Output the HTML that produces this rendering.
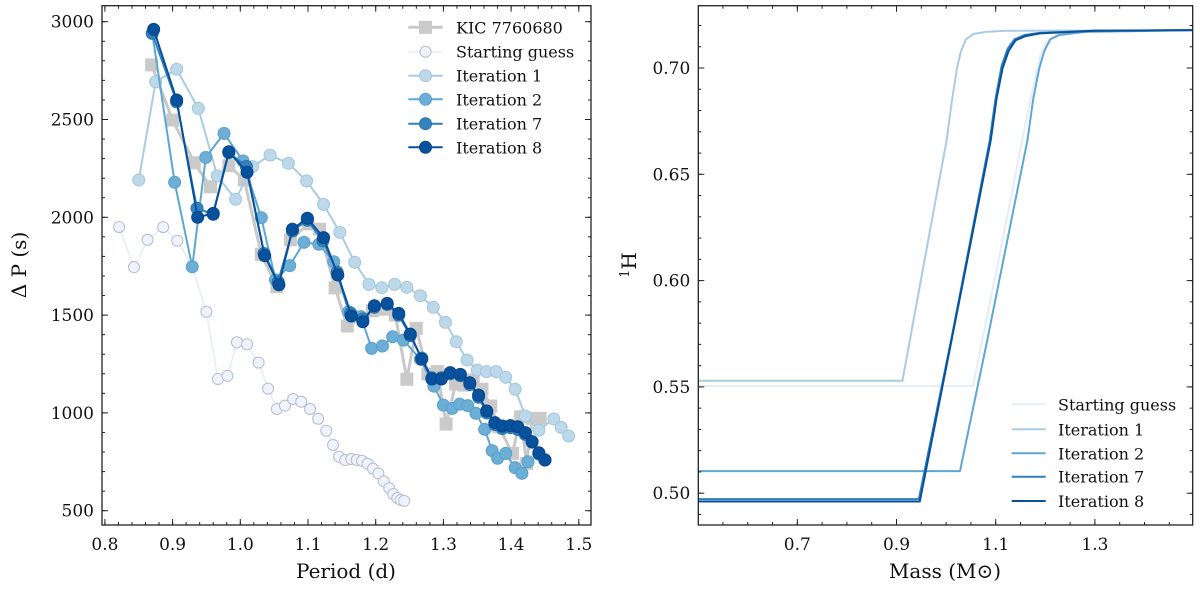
<!DOCTYPE html>
<html><head><meta charset="utf-8"><style>
html,body{margin:0;padding:0;background:#fff;width:1200px;height:591px;overflow:hidden}
svg{display:block}
text{font-family:"DejaVu Serif","Liberation Serif",serif;fill:#111}
</style></head><body>
<svg id="chart" width="1200" height="591" viewBox="0 0 1200 591" xmlns="http://www.w3.org/2000/svg"></svg>
<script>
// ---------- Left panel data (Period d, Delta P s) ----------
const kicPeriod=[0.869,0.900,0.932,0.956,0.983,1.006,1.031,1.054,1.074,1.100,1.117,1.140,1.158,1.195,1.212,1.229,1.246,1.260,1.277,1.291,1.304,1.318,1.331,1.344,1.357,1.370,1.382,1.402,1.414,1.423,1.431,1.443];
const kicDP=[2779,2497,2279,2156,2264,2191,1811,1645,1885,1966,1939,1639,1444,1522,1530,1500,1172,1432,1199,1211,943,1148,1142,1168,1121,1035,929,793,980,742,972,972];
const startPeriod=[0.821,0.843,0.863,0.886,0.907,0.929,0.950,0.967,0.981,0.995,1.010,1.027,1.041,1.054,1.066,1.078,1.090,1.103,1.115,1.127,1.137,1.146,1.155,1.164,1.172,1.180,1.188,1.196,1.204,1.212,1.220,1.226,1.232,1.237,1.242];
const startDP=[1950,1745,1885,1950,1880,1747,1517,1173,1189,1361,1351,1257,1124,1020,1037,1071,1057,1020,970,909,836,776,759,764,759,755,740,715,690,650,615,585,565,555,550];
const it1Period=[0.850,0.875,0.906,0.938,0.966,0.993,1.018,1.044,1.071,1.098,1.123,1.147,1.169,1.190,1.209,1.228,1.246,1.266,1.285,1.303,1.319,1.335,1.350,1.364,1.378,1.392,1.406,1.421,1.441,1.463,1.474,1.485];
const it1DP=[2191,2693,2757,2557,2211,2092,2259,2318,2276,2186,2066,1923,1770,1657,1640,1657,1642,1599,1540,1463,1364,1270,1219,1211,1211,1182,1121,984,912,969,926,882];
const it2Period=[0.870,0.903,0.929,0.949,0.976,1.004,1.031,1.052,1.073,1.094,1.116,1.138,1.160,1.178,1.194,1.210,1.225,1.241,1.266,1.286,1.300,1.313,1.324,1.336,1.348,1.361,1.372,1.380,1.392,1.406,1.416,1.425];
const it2DP=[2940,2179,1747,2306,2429,2288,1998,1680,1753,1872,1862,1773,1517,1492,1330,1342,1389,1372,1274,1137,1040,1023,1045,1037,998,916,807,768,793,720,691,750];
const it7Period=[0.870,0.906,0.936,0.960,0.983,1.009,1.035,1.056,1.077,1.099,1.122,1.143,1.163,1.181,1.198,1.217,1.234,1.251,1.268,1.283,1.297,1.310,1.325,1.339,1.352,1.364,1.376,1.387,1.399,1.410,1.421,1.431,1.441,1.450];
const it7DP=[2940,2590,2046,2015,2330,2260,1815,1670,1930,1985,1880,1720,1510,1480,1540,1555,1500,1395,1280,1180,1180,1200,1190,1145,1080,1000,940,920,925,915,890,850,790,760];
const it8Period=[0.872,0.906,0.937,0.960,0.983,1.010,1.036,1.057,1.077,1.099,1.123,1.144,1.164,1.181,1.198,1.217,1.234,1.251,1.268,1.283,1.297,1.310,1.325,1.339,1.352,1.364,1.376,1.387,1.399,1.410,1.421,1.431,1.441,1.450];
const it8DP=[2961,2600,2000,2020,2335,2230,1804,1655,1939,1995,1896,1705,1495,1466,1548,1560,1509,1403,1275,1173,1173,1206,1197,1154,1091,1010,950,933,935,929,899,853,796,759];
const leftXTicks=[0.8,0.9,1.0,1.1,1.2,1.3,1.4,1.5];
const leftXTickLabels=["0.8","0.9","1.0","1.1","1.2","1.3","1.4","1.5"];
const leftYTicks=[500,1000,1500,2000,2500,3000];
const leftYTickLabels=["500","1000","1500","2000","2500","3000"];
// ---------- Right panel data (Mass, 1H) ----------
const startMass=[0.5,1.054,1.10,1.14,1.165,1.19,1.205,1.225,1.26,1.5];
const startH=[0.5504,0.5504,0.603,0.650,0.680,0.706,0.713,0.716,0.7175,0.7178];
const it1Mass=[0.5,0.912,0.960,1.001,1.012,1.022,1.030,1.040,1.055,1.08,1.12,1.23,1.5];
const it1H=[0.5529,0.5529,0.614,0.666,0.685,0.700,0.708,0.7135,0.716,0.7170,0.7175,0.7176,0.7178];
const it2Mass=[0.5,1.028,1.083,1.164,1.176,1.188,1.198,1.210,1.228,1.28,1.5];
const it2H=[0.5104,0.5104,0.572,0.666,0.686,0.700,0.708,0.7135,0.7155,0.717,0.7178];
const it7Mass=[0.5,0.945,1.011,1.088,1.100,1.112,1.124,1.138,1.158,1.189,1.30,1.5];
const it7H=[0.4972,0.4972,0.573,0.666,0.686,0.701,0.709,0.7135,0.7155,0.7165,0.7175,0.7178];
const it8Mass=[0.5,0.947,1.011,1.090,1.102,1.114,1.126,1.140,1.160,1.189,1.30,1.5];
const it8H=[0.4961,0.4961,0.572,0.666,0.686,0.700,0.708,0.713,0.715,0.7163,0.7175,0.7178];
const rightXTicks=[0.7,0.9,1.1,1.3];
const rightXTickLabels=["0.7","0.9","1.1","1.3"];
const rightYTicks=[0.50,0.55,0.60,0.65,0.70];
const rightYTickLabels=["0.50","0.55","0.60","0.65","0.70"];

const NS="http://www.w3.org/2000/svg";
const svg=document.getElementById('chart');
function mk(tag,attrs,parent){const e=document.createElementNS(NS,tag);for(const k in attrs)e.setAttribute(k,attrs[k]);(parent||svg).appendChild(e);return e;}

const L={x0:102,x1:591,y0:5.7,y1:525};
const R={x0:698.3,x1:1192.7,y0:5.7,y1:525};
function xL(v){return 104.9+(v-0.8)*677;}
function yL(v){return 21.7+(3000-v)*0.1956;}
function xR(m){return 797.3+(m-0.7)*496;}
function yR(h){return 493.2-(h-0.5)*2126;}

const defs=mk('defs',{});
const cl=mk('clipPath',{id:'clipL'},defs);mk('rect',{x:L.x0,y:L.y0,width:L.x1-L.x0,height:L.y1-L.y0},cl);
const cr=mk('clipPath',{id:'clipR'},defs);mk('rect',{x:R.x0,y:R.y0,width:R.x1-R.x0,height:R.y1-R.y0},cr);

function ticks(g,box,xs,isX,len,fn){
  xs.forEach(v=>{
    const p=fn(v);
    if(isX){
      if(p<box.x0+0.5||p>box.x1-0.5)return;
      mk('line',{x1:p,x2:p,y1:box.y1,y2:box.y1-len,stroke:'#222','stroke-width':1},g);
      mk('line',{x1:p,x2:p,y1:box.y0,y2:box.y0+len,stroke:'#222','stroke-width':1},g);
    }else{
      if(p<box.y0+0.5||p>box.y1-0.5)return;
      mk('line',{x1:box.x0,x2:box.x0+len,y1:p,y2:p,stroke:'#222','stroke-width':1},g);
      mk('line',{x1:box.x1,x2:box.x1-len,y1:p,y2:p,stroke:'#222','stroke-width':1},g);
    }
  });
}
function range(a,b,s){const r=[];for(let v=a;v<=b+1e-9;v+=s)r.push(Math.round(v*1000)/1000);return r;}

// ---------- Left panel ----------
const gL=mk('g',{});


const plotL=mk('g',{'clip-path':'url(#clipL)'},gL);



function series(parent,xs,ys,fx,fy,color,lw,marker,fill,edge,size,name){
  const g=mk('g',{},parent);
  
  
  const pts=xs.map((v,i)=>fx(v).toFixed(2)+','+fy(ys[i]).toFixed(2)).join(' ');
  const pl=mk('polyline',{points:pts,fill:'none',stroke:color,'stroke-width':lw,'stroke-linejoin':'round'},g);
  
  
  xs.forEach((v,i)=>{
    let m;
    if(marker==='s'){m=mk('rect',{x:fx(v)-size,y:fy(ys[i])-size,width:size*2,height:size*2,fill:fill},g);}
    else {m=mk('circle',{cx:fx(v),cy:fy(ys[i]),r:size,fill:fill,stroke:edge,'stroke-width':1},g);}
    
    
  });
  return g;
}
series(plotL,kicPeriod,kicDP,xL,yL,'#c8c8c8',3,'s','#cacaca','none',6.5,'kic-7760680-series');
series(plotL,startPeriod,startDP,xL,yL,'#e6ecfa',1.6,'o','#eff3ff','#b8bccb',5.5,'starting-guess-series');
series(plotL,it1Period,it1DP,xL,yL,'#a9cce3',2,'o','#bcd8e9','#a3c6de',6,'iteration-1-series');
series(plotL,it2Period,it2DP,xL,yL,'#5ea6d3',2,'o','#6baed6','#5b9fca',6,'iteration-2-series');
series(plotL,it7Period,it7DP,xL,yL,'#2d7fbd',2,'o','#3182bd','#2a72aa',6,'iteration-7-series');
series(plotL,it8Period,it8DP,xL,yL,'#08519c',2,'o','#08519c','#07468a',6,'iteration-8-series');

const tL=mk('g',{},gL);


ticks(tL,L,range(0.8,1.52,0.02),true,3,xL);
ticks(tL,L,leftXTicks,true,6,xL);
ticks(tL,L,range(500,3000,100),false,3,yL);
ticks(tL,L,leftYTicks,false,6,yL);
const frameL=mk('rect',{x:L.x0,y:L.y0,width:L.x1-L.x0,height:L.y1-L.y0,fill:'none',stroke:'#222','stroke-width':1.3},gL);


leftXTicks.forEach((v,i)=>{
  const t=mk('text',{x:xL(v),y:550,'text-anchor':'middle','font-size':17},gL);
  t.textContent=leftXTickLabels[i];
  
  
});
leftYTicks.forEach((v,i)=>{
  const t=mk('text',{x:L.x0-8,y:yL(v)+6,'text-anchor':'end','font-size':17},gL);
  t.textContent=leftYTickLabels[i];
  
  
});
const xtL=mk('text',{x:346,y:578,'text-anchor':'middle','font-size':20},gL);
xtL.textContent='Period (d)';


const ytL=mk('text',{x:0,y:0,'text-anchor':'middle','font-size':20,transform:'translate(26,265) rotate(-90)'},gL);
ytL.textContent='Δ P (s)';



const legL=mk('g',{},gL);


const legItems=[
 ['KIC 7760680','#c8c8c8','s','#cacaca','none',6.5,3],
 ['Starting guess','#e6ecfa','o','#eff3ff','#b8bccb',5.5,1.6],
 ['Iteration 1','#a9cce3','o','#bcd8e9','#a3c6de',6,2],
 ['Iteration 2','#5ea6d3','o','#6baed6','#5b9fca',6,2],
 ['Iteration 7','#2d7fbd','o','#3182bd','#2a72aa',6,2],
 ['Iteration 8','#08519c','o','#08519c','#07468a',6,2]];
const legLY=[27.3,51.7,75.7,99.3,123.7,147.3];
legItems.forEach((it,i)=>{
  const g=mk('g',{},legL);
  
  
  const y=legLY[i];
  mk('line',{x1:408.3,x2:442.7,y1:y,y2:y,stroke:it[1],'stroke-width':it[6]},g);
  if(it[2]==='s')mk('rect',{x:425.5-it[5],y:y-it[5],width:it[5]*2,height:it[5]*2,fill:it[3]},g);
  else mk('circle',{cx:425.5,cy:y,r:it[5],fill:it[3],stroke:it[4],'stroke-width':1},g);
  const t=mk('text',{x:456,y:y+6,'font-size':16},g);
  t.textContent=it[0];
});

// ---------- Right panel ----------
const gR=mk('g',{});


const plotR=mk('g',{'clip-path':'url(#clipR)'},gR);


function curve(xs,ys,color,name){
  const pts=xs.map((v,i)=>xR(v).toFixed(2)+','+yR(ys[i]).toFixed(2)).join(' ');
  const p=mk('polyline',{points:pts,fill:'none',stroke:color,'stroke-width':2,'stroke-linejoin':'round'},plotR);
  
  
}
curve(startMass,startH,'#e6ecfa','starting-guess-profile');
curve(it1Mass,it1H,'#a9cce3','iteration-1-profile');
curve(it2Mass,it2H,'#5ea6d3','iteration-2-profile');
curve(it7Mass,it7H,'#2d7fbd','iteration-7-profile');
curve(it8Mass,it8H,'#08519c','iteration-8-profile');

const tR=mk('g',{},gR);


ticks(tR,R,range(0.5,1.5,0.05),true,3,xR);
ticks(tR,R,rightXTicks,true,6,xR);
ticks(tR,R,range(0.49,0.72,0.01),false,3,yR);
ticks(tR,R,rightYTicks,false,6,yR);
const frameR=mk('rect',{x:R.x0,y:R.y0,width:R.x1-R.x0,height:R.y1-R.y0,fill:'none',stroke:'#222','stroke-width':1.3},gR);


rightXTicks.forEach((v,i)=>{
  const t=mk('text',{x:xR(v),y:550,'text-anchor':'middle','font-size':17},gR);
  t.textContent=rightXTickLabels[i];
  
  
});
rightYTicks.forEach((v,i)=>{
  const t=mk('text',{x:R.x0-8,y:yR(v)+6,'text-anchor':'end','font-size':17},gR);
  t.textContent=rightYTickLabels[i];
  
  
});
const xtR=mk('text',{x:945,y:578,'text-anchor':'middle','font-size':20},gR);
xtR.textContent='Mass (M⊙)';


const ytR=mk('text',{x:0,y:0,'text-anchor':'middle','font-size':20,transform:'translate(636,265) rotate(-90)'},gR);
ytR.innerHTML='<tspan font-size="13" dy="-7">1</tspan><tspan dy="7">H</tspan>';



const legR=mk('g',{},gR);


const legRItems=[['Starting guess','#e6ecfa'],['Iteration 1','#a9cce3'],['Iteration 2','#5ea6d3'],['Iteration 7','#2d7fbd'],['Iteration 8','#08519c']];
const legRY=[404.3,429.3,453.3,476.7,501];
legRItems.forEach((it,i)=>{
  const g=mk('g',{},legR);
  
  
  mk('line',{x1:1011.7,x2:1045.7,y1:legRY[i],y2:legRY[i],stroke:it[1],'stroke-width':2},g);
  const t=mk('text',{x:1058,y:legRY[i]+6,'font-size':16},g);
  t.textContent=it[0];
});
</script>
</body></html>
